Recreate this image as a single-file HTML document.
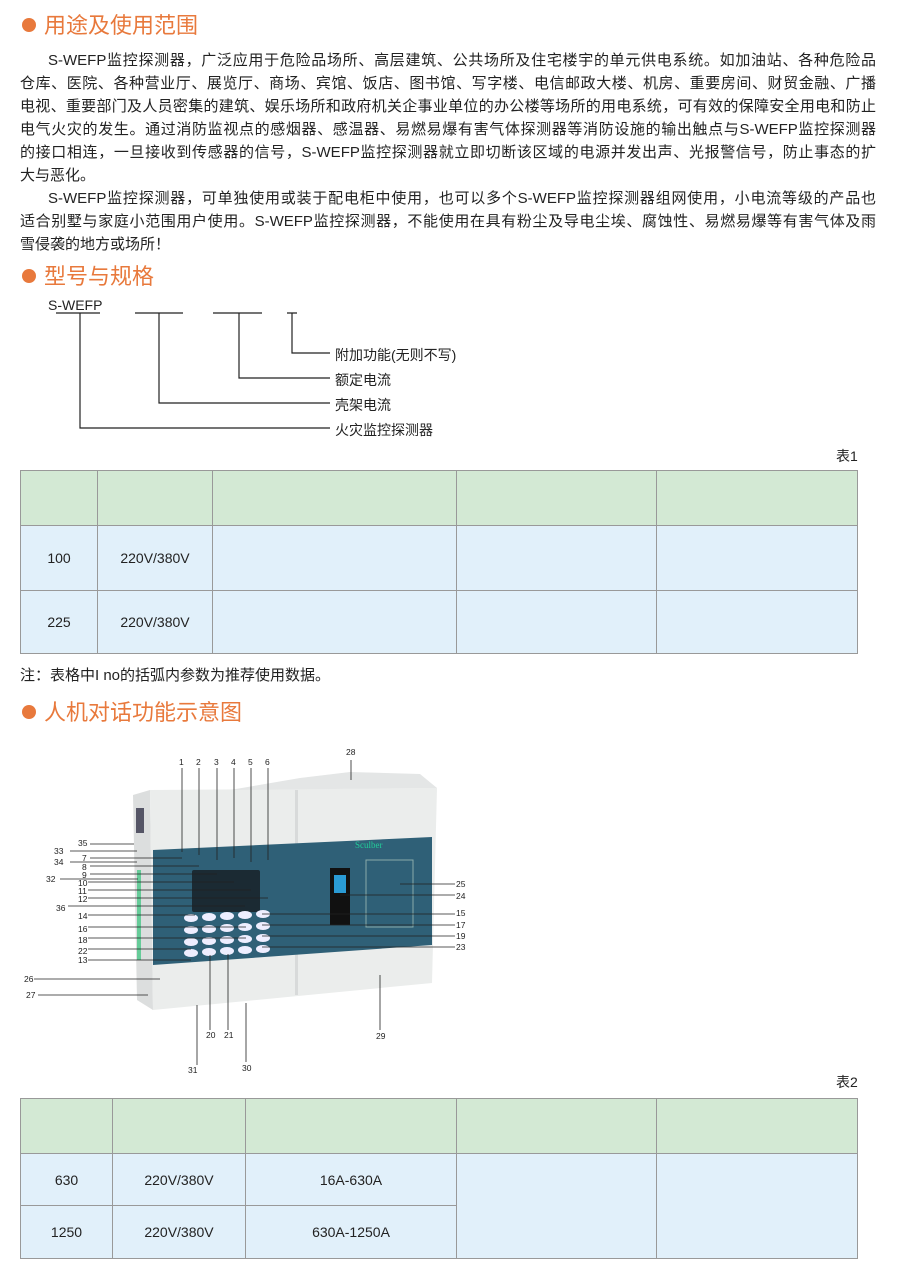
<!DOCTYPE html>
<html><head><meta charset="utf-8"><style>
body{margin:0;background:#fff;}
#p{position:relative;width:900px;height:1279px;overflow:hidden;font-family:"Liberation Sans","Noto Sans CJK SC",sans-serif;color:#222;}
.h{position:absolute;left:22px;font-size:22px;line-height:26px;color:#e8793c;}
.h i{display:inline-block;width:14px;height:14px;border-radius:50%;background:#e8793c;margin-right:8px;vertical-align:1px;}
.t{position:absolute;left:20px;width:856px;font-size:15px;line-height:23px;}
.t div{text-align:justify;text-align-last:justify;white-space:nowrap;height:23px;}
.t div.l{text-align-last:left;}
.t div.in{padding-left:28px;}
.a{position:absolute;font-size:13px;white-space:nowrap;}
table{position:absolute;border-collapse:collapse;left:20px;width:838px;font-size:14px;}
td{border:1px solid #999;text-align:center;padding:0;}
.g td{background:#d3e9d4;}
.b td,td.b{background:#e1f0fa;}
.n{position:absolute;font-size:8.5px;font-family:"Liberation Sans",sans-serif;}
</style></head><body><div id="p">
<div class="h" style="top:13px"><i></i>用途及使用范围</div>
<div class="t" style="top:49px">
<div class="in">S-WEFP监控探测器，广泛应用于危险品场所、高层建筑、公共场所及住宅楼宇的单元供电系统。如加油站、各种危险品</div>
<div>仓库、医院、各种营业厅、展览厅、商场、宾馆、饭店、图书馆、写字楼、电信邮政大楼、机房、重要房间、财贸金融、广播</div>
<div>电视、重要部门及人员密集的建筑、娱乐场所和政府机关企事业单位的办公楼等场所的用电系统，可有效的保障安全用电和防止</div>
<div>电气火灾的发生。通过消防监视点的感烟器、感温器、易燃易爆有害气体探测器等消防设施的输出触点与S-WEFP监控探测器</div>
<div>的接口相连，一旦接收到传感器的信号，S-WEFP监控探测器就立即切断该区域的电源并发出声、光报警信号，防止事态的扩</div>
<div class="l">大与恶化。</div>
<div class="in">S-WEFP监控探测器，可单独使用或装于配电柜中使用，也可以多个S-WEFP监控探测器组网使用，小电流等级的产品也</div>
<div>适合别墅与家庭小范围用户使用。S-WEFP监控探测器，不能使用在具有粉尘及导电尘埃、腐蚀性、易燃易爆等有害气体及雨</div>
<div class="l">雪侵袭的地方或场所！</div>
</div>
<div class="h" style="top:264px"><i></i>型号与规格</div>
<div class="a" style="left:48px;top:297px;font-size:14px">S-WEFP</div>
<div class="a" style="left:335px;top:345px;font-size:14px">附加功能(无则不写)</div>
<div class="a" style="left:335px;top:370px;font-size:14px">额定电流</div>
<div class="a" style="left:335px;top:395px;font-size:14px">壳架电流</div>
<div class="a" style="left:335px;top:420px;font-size:14px">火灾监控探测器</div>
<svg style="position:absolute;left:0;top:0" width="900" height="1279">
<g stroke="#222" stroke-width="1.2" fill="none">
<path d="M56 313H100M135 313H183M213 313H262M287 313H297"/>
<path d="M80 313V428H330M159 313V403H330M239 313V378H330M292 313V353H330"/>
</g>
<polygon points="133,795 150,790 153,1010 137,1000" fill="#dcdede"/>
<polygon points="150,790 437,788 432,983 153,1010" fill="#ebedec"/>
<rect x="295" y="790" width="3" height="205" fill="#d8dada"/>
<polygon points="230,790 300,778 350,772 420,774 437,788" fill="#e4e6e6"/>
<rect x="136" y="808" width="8" height="25" fill="#556"/>
<rect x="137" y="870" width="4" height="90" fill="#6c9"/>
<polygon points="153,850 432,837 432,945 153,965" fill="#2f6077"/>
<rect x="192" y="870" width="68" height="42" rx="2" fill="#1b2a33"/>
<g fill="#eef">
<ellipse cx="191" cy="918" rx="7" ry="4"/><ellipse cx="209" cy="917" rx="7" ry="4"/><ellipse cx="227" cy="916" rx="7" ry="4"/><ellipse cx="245" cy="915" rx="7" ry="4"/><ellipse cx="263" cy="914" rx="7" ry="4"/>
<ellipse cx="191" cy="930" rx="7" ry="4"/><ellipse cx="209" cy="929" rx="7" ry="4"/><ellipse cx="227" cy="928" rx="7" ry="4"/><ellipse cx="245" cy="927" rx="7" ry="4"/><ellipse cx="263" cy="926" rx="7" ry="4"/>
<ellipse cx="191" cy="942" rx="7" ry="4"/><ellipse cx="209" cy="941" rx="7" ry="4"/><ellipse cx="227" cy="940" rx="7" ry="4"/><ellipse cx="245" cy="939" rx="7" ry="4"/><ellipse cx="263" cy="938" rx="7" ry="4"/>
<ellipse cx="191" cy="953" rx="7" ry="4"/><ellipse cx="209" cy="952" rx="7" ry="4"/><ellipse cx="227" cy="951" rx="7" ry="4"/><ellipse cx="245" cy="950" rx="7" ry="4"/><ellipse cx="263" cy="949" rx="7" ry="4"/>
</g>
<rect x="330" y="868" width="20" height="57" fill="#111"/>
<rect x="334" y="875" width="12" height="18" fill="#2a9bd5"/>
<rect x="366" y="860" width="47" height="67" fill="none" stroke="#8aa" stroke-width="1"/>
<text x="355" y="848" font-size="9" fill="#2c9" font-family="Liberation Serif">Sculber</text>
<g stroke="#222" stroke-width="0.8" fill="none">
<path d="M182 768V852M199 768V855M217 768V860M234 768V858M251 768V862M268 768V860M351 760V780"/>
<path d="M90 844H134M70 851H137M90 858H182M70 862H137M90 866H199M90 874H217M60 879H138M88 882H234M88 890H251M88 898H268M68 906H245M88 915H195M88 927H246M88 938H246M88 949H191M88 960H191"/>
<path d="M34 979H160M38 995H148M210 955V1030M228 954V1030M197 1005V1065M246 1003V1062M380 975V1030"/>
<path d="M262 914H455M262 925H455M262 936H455M262 947H455M400 884H455M340 895H455"/>
</g>
</svg>
<div class="n" style="left:179px;top:757px">1</div><div class="n" style="left:196px;top:757px">2</div><div class="n" style="left:214px;top:757px">3</div><div class="n" style="left:231px;top:757px">4</div><div class="n" style="left:248px;top:757px">5</div><div class="n" style="left:265px;top:757px">6</div><div class="n" style="left:346px;top:747px">28</div>
<div class="n" style="left:78px;top:838px">35</div><div class="n" style="left:54px;top:846px">33</div><div class="n" style="left:82px;top:853px">7</div><div class="n" style="left:54px;top:857px">34</div><div class="n" style="left:82px;top:862px">8</div><div class="n" style="left:82px;top:870px">9</div><div class="n" style="left:46px;top:874px">32</div><div class="n" style="left:78px;top:878px">10</div><div class="n" style="left:78px;top:886px">11</div><div class="n" style="left:78px;top:894px">12</div><div class="n" style="left:56px;top:903px">36</div><div class="n" style="left:78px;top:911px">14</div><div class="n" style="left:78px;top:924px">16</div><div class="n" style="left:78px;top:935px">18</div><div class="n" style="left:78px;top:946px">22</div><div class="n" style="left:78px;top:955px">13</div>
<div class="n" style="left:24px;top:974px">26</div><div class="n" style="left:26px;top:990px">27</div>
<div class="n" style="left:206px;top:1030px">20</div><div class="n" style="left:224px;top:1030px">21</div><div class="n" style="left:188px;top:1065px">31</div><div class="n" style="left:242px;top:1063px">30</div><div class="n" style="left:376px;top:1031px">29</div>
<div class="n" style="left:456px;top:879px">25</div><div class="n" style="left:456px;top:891px">24</div><div class="n" style="left:456px;top:908px">15</div><div class="n" style="left:456px;top:920px">17</div><div class="n" style="left:456px;top:931px">19</div><div class="n" style="left:456px;top:942px">23</div>
<div class="a" style="left:836px;top:446px;font-size:14px">表1</div>
<table style="top:470px">
<tr class="g" style="height:55px"><td style="width:76px"></td><td style="width:114px"></td><td style="width:243px"></td><td style="width:199px"></td><td></td></tr>
<tr class="b" style="height:65px"><td>100</td><td>220V/380V</td><td></td><td></td><td></td></tr>
<tr class="b" style="height:63px"><td>225</td><td>220V/380V</td><td></td><td></td><td></td></tr>
</table>
<div class="a" style="left:20px;top:664px;font-size:15px">注：表格中I no的括弧内参数为推荐使用数据。</div>
<div class="h" style="top:700px"><i></i>人机对话功能示意图</div>
<div class="a" style="left:836px;top:1072px;font-size:14px">表2</div>
<table style="top:1098px">
<tr class="g" style="height:55px"><td style="width:91px"></td><td style="width:132px"></td><td style="width:210px"></td><td style="width:199px"></td><td></td></tr>
<tr class="b" style="height:52px"><td>630</td><td>220V/380V</td><td>16A-630A</td><td rowspan="2"></td><td rowspan="2"></td></tr>
<tr class="b" style="height:53px"><td>1250</td><td>220V/380V</td><td>630A-1250A</td></tr>
</table>
</div></body></html>
